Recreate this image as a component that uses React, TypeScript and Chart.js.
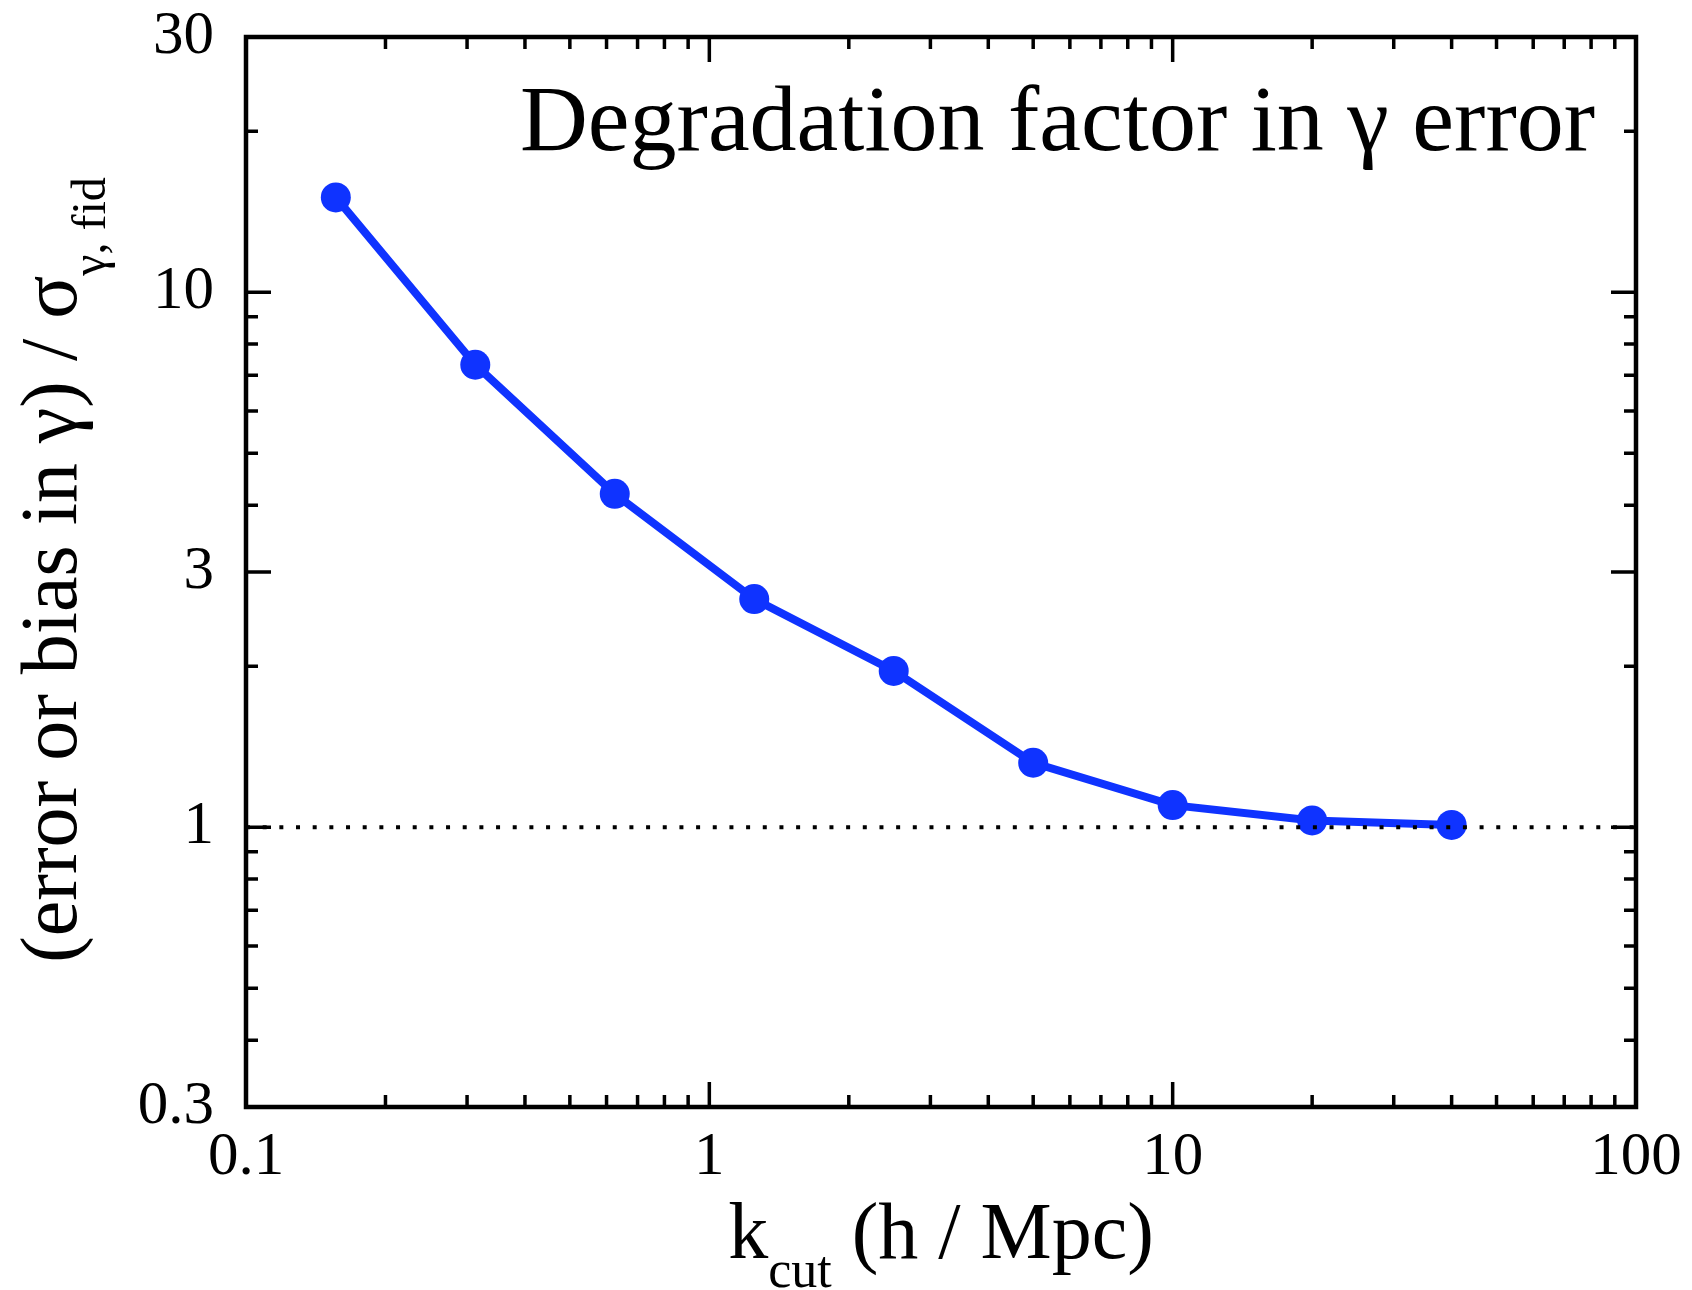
import React, { useEffect, useRef } from "react";
import { Chart, registerables } from "chart.js";

Chart.register(...registerables);

// ---- data ----
const kCut = [0.15625, 0.3125, 0.625, 1.25, 2.5, 5, 10, 20, 40];
const degradation = [15.04, 7.32, 4.2, 2.67, 1.96, 1.32, 1.1, 1.03, 1.01];
const refLineX = [0.1, 100];
const refLineY = [1, 1];

const xMajorTicks = [0.1, 1, 10, 100];
const xMinorTicks = [
  0.2, 0.3, 0.4, 0.5, 0.6, 0.7, 0.8, 0.9,
  2, 3, 4, 5, 6, 7, 8, 9,
  20, 30, 40, 50, 60, 70, 80, 90,
];
const yLabelTicks = [0.3, 1, 3, 10, 30];
const yMinorTicks = [0.4, 0.5, 0.6, 0.7, 0.8, 0.9, 2, 4, 5, 6, 7, 8, 9, 20];

const titleText = "Degradation factor in γ error";
const xTitleMain = "k";
const xTitleSub = "cut";
const xTitleRest = " (h / Mpc)";
const yTitleMain = "(error or bias in γ) / σ";
const yTitleSub = "γ, fid";

const FONT = "'Liberation Serif', 'Times New Roman', Times, serif";
const BLUE = "#0f33ff";

const framePlugin = {
  id: "frameAndText",
  afterDraw(chart: any) {
    const { ctx, chartArea } = chart;
    const { left, right, top, bottom } = chartArea;
    const xs = chart.scales.x;
    const ys = chart.scales.y;
    ctx.save();
    ctx.strokeStyle = "#000";
    // ticks (inward, on all four sides)
    ctx.lineWidth = 3.5;
    ctx.lineCap = "butt";
    const MAJ = 25;
    const MIN = 12;
    const drawX = (v: number, len: number) => {
      const px = xs.getPixelForValue(v);
      ctx.beginPath();
      ctx.moveTo(px, bottom);
      ctx.lineTo(px, bottom - len);
      ctx.moveTo(px, top);
      ctx.lineTo(px, top + len);
      ctx.stroke();
    };
    const drawY = (v: number, len: number) => {
      const py = ys.getPixelForValue(v);
      ctx.beginPath();
      ctx.moveTo(left, py);
      ctx.lineTo(left + len, py);
      ctx.moveTo(right, py);
      ctx.lineTo(right - len, py);
      ctx.stroke();
    };
    xMajorTicks.forEach((v) => drawX(v, MAJ));
    xMinorTicks.forEach((v) => drawX(v, MIN));
    yLabelTicks.forEach((v) => drawY(v, MAJ));
    yMinorTicks.forEach((v) => drawY(v, MIN));
    // frame
    ctx.lineWidth = 4.5;
    ctx.strokeRect(left, top, right - left, bottom - top);

    ctx.fillStyle = "#000";
    ctx.textBaseline = "alphabetic";
    // title inside plot
    ctx.font = `94px ${FONT}`;
    ctx.textAlign = "right";
    ctx.fillText(titleText, right - 41, 150);

    // x title
    ctx.textAlign = "left";
    const mainF = `80px ${FONT}`;
    const subF = `52px ${FONT}`;
    ctx.font = mainF;
    const wk = ctx.measureText(xTitleMain).width;
    const wRest = ctx.measureText(xTitleRest).width;
    ctx.font = subF;
    const wCut = ctx.measureText(xTitleSub).width;
    const xTotal = wk + wCut + wRest;
    const cx = (left + right) / 2;
    const sx = cx - xTotal / 2;
    const xb = 1258;
    ctx.font = mainF;
    ctx.fillText(xTitleMain, sx, xb);
    ctx.font = subF;
    ctx.fillText(xTitleSub, sx + wk, xb + 29);
    ctx.font = mainF;
    ctx.fillText(xTitleRest, sx + wk + wCut, xb);

    // y title (rotated)
    const ySubF = `48px ${FONT}`;
    ctx.font = mainF;
    const wYm = ctx.measureText(yTitleMain).width;
    ctx.font = ySubF;
    const wYs = ctx.measureText(yTitleSub).width;
    const yTotal = wYm + wYs;
    ctx.translate(76, 570);
    ctx.rotate(-Math.PI / 2);
    ctx.font = mainF;
    ctx.fillText(yTitleMain, -yTotal / 2, 0);
    ctx.font = ySubF;
    ctx.fillText(yTitleSub, -yTotal / 2 + wYm, 29);
    ctx.restore();
  },
};

export default function App() {
  const ref = useRef<HTMLCanvasElement | null>(null);
  useEffect(() => {
    if (!ref.current) return;
    const chart = new Chart(ref.current, {
      type: "line",
      data: {
        datasets: [
          {
            label: "reference",
            data: refLineX.map((x, i) => ({ x, y: refLineY[i] })),
            borderColor: "#000",
            borderWidth: 4,
            borderDash: [4, 12.67],
            borderCapStyle: "butt",
            pointRadius: 0,
            fill: false,
            order: 0,
          },
          {
            label: "degradation",
            data: kCut.map((x, i) => ({ x, y: degradation[i] })),
            borderColor: BLUE,
            backgroundColor: BLUE,
            borderWidth: 8,
            pointRadius: 15,
            pointBackgroundColor: BLUE,
            pointBorderWidth: 0,
            fill: false,
            tension: 0,
            order: 1,
          },
        ],
      },
      options: {
        animation: false,
        responsive: false,
        devicePixelRatio: 1,
        events: [],
        layout: { padding: { left: 0, top: 37, right: 56, bottom: 0 } },
        plugins: {
          legend: { display: false },
          tooltip: { enabled: false },
          title: { display: false },
        },
        scales: {
          x: {
            type: "logarithmic",
            min: 0.1,
            max: 100,
            position: "bottom",
            grid: { display: false, drawTicks: false },
            border: { display: false },
            afterBuildTicks: (s: any) => {
              s.ticks = xMajorTicks.map((v) => ({ value: v }));
            },
            afterFit: (s: any) => {
              s.height = 183;
              s.paddingLeft = 0;
              s.paddingRight = 0;
            },
            ticks: {
              autoSkip: false,
              maxRotation: 0,
              minRotation: 0,
              padding: 20,
              color: "#000",
              font: { family: FONT, size: 61, lineHeight: 1 },
              callback: (v: any) => String(v),
            },
          },
          y: {
            type: "logarithmic",
            min: 0.3,
            max: 30,
            position: "left",
            grid: { display: false, drawTicks: false },
            border: { display: false },
            afterBuildTicks: (s: any) => {
              s.ticks = yLabelTicks.map((v) => ({ value: v }));
            },
            afterFit: (s: any) => {
              s.width = 246;
              s.paddingTop = 0;
              s.paddingBottom = 0;
            },
            ticks: {
              autoSkip: false,
              padding: 32,
              color: "#000",
              font: { family: FONT, size: 61, lineHeight: 1 },
              callback: (v: any) => String(v),
            },
          },
        },
      },
      plugins: [framePlugin],
    } as any);
    return () => chart.destroy();
  }, []);
  return (
    <div style={{ position: "absolute", left: 0, top: 0, width: 1692, height: 1290, background: "#fff" }}>
      <canvas ref={ref} width={1692} height={1290} style={{ width: 1692, height: 1290, display: "block" }} />
    </div>
  );
}
